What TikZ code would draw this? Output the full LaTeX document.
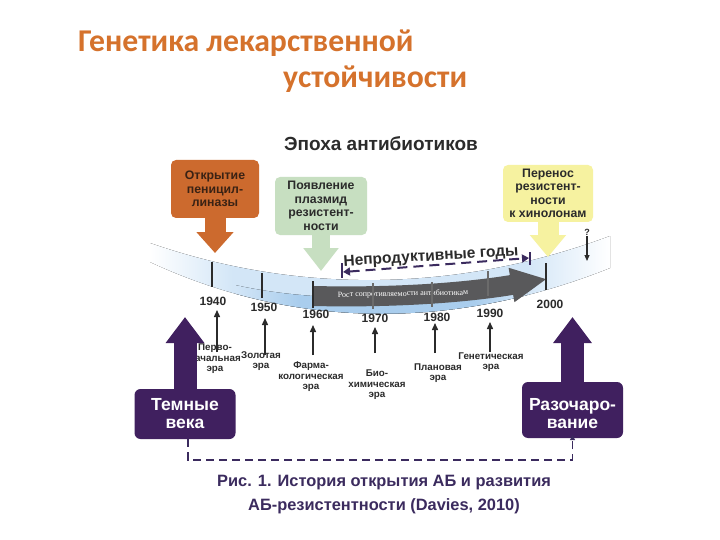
\documentclass[tikz,border=0pt]{standalone}
\usepackage{fontspec}
\setmainfont{Liberation Sans}
\newfontfamily\titlefont{Carlito}
\newfontfamily\smallserif{Liberation Serif}
\usetikzlibrary{arrows.meta}
\definecolor{titleor}{HTML}{D5722C}
\definecolor{ora}{HTML}{CC6A2E}
\definecolor{oratext}{HTML}{3A2214}
\definecolor{grn}{HTML}{C7DFC1}
\definecolor{yel}{HTML}{F6F2A0}
\definecolor{purp}{HTML}{40205F}
\definecolor{dpurp}{HTML}{3B2B5E}
\definecolor{arrgray}{HTML}{59595B}
\definecolor{bandA}{HTML}{D3E6F7}
\definecolor{bandB}{HTML}{A9CDED}
\definecolor{txt}{HTML}{2B2B2B}
\pgfdeclarehorizontalshading{bandshade}{100bp}{color(0bp)=(white); color(25bp)=(white); color(34bp)=(bandA); color(66bp)=(bandA); color(75bp)=(white); color(100bp)=(white)}
\pgfdeclarehorizontalshading{innershade}{100bp}{color(0bp)=(bandA); color(25bp)=(bandA); color(36bp)=(bandB); color(66bp)=(bandB); color(75bp)=(bandA); color(100bp)=(bandA)}
\tikzset{
  cbox/.style={rounded corners=5pt, inner sep=1pt, align=center, text=txt,
    font=\bfseries\fontsize{12.3}{13.5}\selectfont},
  pbox/.style={fill=purp, rounded corners=6pt, minimum width=101pt},
  ptext/.style={text=white, align=center, font=\bfseries\fontsize{17.5}{18}\selectfont},
  yearlbl/.style={text=txt, font=\bfseries\fontsize{12}{12}\selectfont, inner sep=0pt},
  eralbl/.style={text=txt, align=center, inner sep=0pt, font=\bfseries\fontsize{9.8}{10.5}\selectfont},
  tickline/.style={draw=txt, line width=1.6pt},
  smallarr/.style={draw=txt, line width=1.4pt, -{Triangle[width=6pt,length=7pt]}},
  orarr/.style={draw=ora, line width=21pt, -{Triangle[width=36pt,length=21pt]}},
  grnarr/.style={draw=grn, line width=18pt, -{Triangle[width=34pt,length=23pt]}},
  yelarr/.style={draw=yel, line width=21pt, -{Triangle[width=35pt,length=22pt]}},
  purarr/.style={draw=purp, line width=23pt, -{Triangle[width=37pt,length=26pt]}},
  npdash/.style={draw=dpurp, line width=2pt, dash pattern=on 10pt off 6pt},
  dashconn/.style={draw=dpurp, line width=1.2pt, dash pattern=on 8pt off 5pt}
}
\begin{document}
\begin{tikzpicture}[x=1pt,y=-1pt]
\useasboundingbox (0,0) rectangle (720,540);
\fill[white] (0,0) rectangle (720,540);

% title
\node[anchor=base west, inner sep=0pt, text=titleor, font=\titlefont\bfseries\fontsize{31.7}{32}\selectfont] (t1) at (78,52) {Генетика лекарственной};
\node[anchor=base west, inner sep=0pt, text=titleor, font=\titlefont\bfseries\fontsize{31.7}{32}\selectfont] (t2) at (283,88) {устойчивости};

\node[text=txt, font=\bfseries\fontsize{19}{20}\selectfont] (epoch) at (381,144) {Эпоха антибиотиков};

% band
\fill[shading=bandshade] (150,243) .. controls (300,295) and (460,292) .. (610,236)
  -- (610,268) .. controls (460,328) and (300,332) .. (150,262) -- cycle;
\begin{scope}
\clip (150,243) .. controls (300,295) and (460,292) .. (610,236)
  -- (610,268) .. controls (460,328) and (300,332) .. (150,262) -- cycle;
\fill[shading=innershade] (235,285) .. controls (320,304) and (440,302) .. (527,278) -- (527,340) -- (235,340) -- cycle;
\end{scope}

% gray growth arrow
\coordinate (gs) at (313,296);
\coordinate (ge) at (547,279);
\draw[line width=20pt, draw=arrgray, -{Triangle[width=32pt,length=36pt]}] (gs) .. controls (400,298) and (470,292) .. (ge);
\node[text=white, font=\smallserif\fontsize{8}{8}\selectfont, rotate=1] (rost) at (403,294) {Рост сопротивляемости антибиотикам};

% ticks
\draw[tickline] (212,262) -- (212,287);
\draw[tickline] (262,273) -- (262,298);
\draw[tickline] (313,281) -- (313,308);
\draw[tickline, draw=txt!70] (373,283) -- (373,309);
\draw[tickline, draw=txt!70] (432,282) -- (432,307);
\draw[tickline, draw=txt!70] (488,271) -- (488,296);
\draw[tickline] (546,263) -- (546,290);

% years
\node[yearlbl] (y1940) at (213,301) {1940};
\node[yearlbl] (y1950) at (264,307) {1950};
\node[yearlbl] (y1960) at (316,314) {1960};
\node[yearlbl] (y1970) at (375,318) {1970};
\node[yearlbl] (y1980) at (437,317) {1980};
\node[yearlbl] (y1990) at (490,313) {1990};
\node[yearlbl] (y2000) at (550,304) {2000};

% small arrows
\coordinate (a1t) at (217,352); \coordinate (a1h) at (217,310);
\coordinate (a2t) at (265,355); \coordinate (a2h) at (265,318);
\coordinate (a3t) at (313,355); \coordinate (a3h) at (313,325);
\coordinate (a4t) at (375,353); \coordinate (a4h) at (375,327);
\coordinate (a5t) at (435,353); \coordinate (a5h) at (435,323);
\coordinate (a6t) at (490,352); \coordinate (a6h) at (490,322);
\draw[smallarr] (a1t) -- (a1h);
\draw[smallarr] (a2t) -- (a2h);
\draw[smallarr] (a3t) -- (a3h);
\draw[smallarr] (a4t) -- (a4h);
\draw[smallarr] (a5t) -- (a5h);
\draw[smallarr] (a6t) -- (a6h);

% era labels
\node[eralbl] (e1) at (215,359) {Перво-\\начальная\\эра};
\node[eralbl] (e2) at (261,361) {Золотая\\эра};
\node[eralbl] (e3) at (311,377) {Фарма-\\кологическая\\эра};
\node[eralbl] (e4) at (377,385) {Био-\\химическая\\эра};
\node[eralbl] (e5) at (438,373) {Плановая\\эра};
\node[eralbl] (e6) at (491,362) {Генетическая\\эра};

% unproductive years
\draw[line width=1.6pt, draw=dpurp] (342,263) -- (342,278);
\draw[line width=1.6pt, draw=dpurp] (530,252) -- (530,265);
\coordinate (npl) at (343,272);
\coordinate (npr) at (529,258);
\draw[npdash, {Triangle[width=8pt,length=7pt]}-{Triangle[width=8pt,length=7pt]}] (npl) -- (npr);
\node[rotate=3.5, text=txt, font=\bfseries\fontsize{15.5}{16}\selectfont] (npg) at (431,257) {Непродуктивные годы};

% colored boxes and block arrows
\node[cbox, fill=ora, text=oratext, minimum width=88pt, minimum height=58pt] (obox) at (215,189) {Открытие\\пеницил-\\линазы};
\coordinate (otip) at (215,253);
\draw[orarr] (obox.south) -- (otip);

\node[cbox, fill=grn, minimum width=92pt, minimum height=58pt] (gbox) at (321,206) {Появление\\плазмид\\резистент-\\ности};
\coordinate (gtip) at (321,271);
\draw[grnarr] (gbox.south) -- (gtip);

\node[cbox, fill=yel, minimum width=90pt, minimum height=57pt] (ybox) at (548,193.5) {Перенос\\резистент-\\ности\\к хинолонам};
\coordinate (ytip) at (548,257);
\draw[yelarr] (ybox.south) -- (ytip);

\node[text=txt, font=\bfseries\fontsize{9}{9}\selectfont, inner sep=1pt] (qm) at (587,232) {?};
\coordinate (qtip) at (587,261);
\draw[smallarr, line width=1.2pt, -{Triangle[width=5pt,length=6pt]}] (qm.south) -- (qtip);

% purple boxes
\node[pbox, minimum height=50pt] (tbox) at (185,414) {};
\node[ptext] (ttext) at (185,414) {Темные\\века};
\coordinate (ttip) at (185,317);
\draw[purarr] (tbox.north) -- (ttip);

\node[pbox, minimum height=56pt] (rbox) at (572.5,410) {};
\node[ptext] (rtext) at (572.5,414) {Разочаро-\\вание};
\coordinate (rtip) at (572.5,317);
\draw[purarr] (rbox.north) -- (rtip);

% dashed link
\coordinate (dr) at (572.5,460);
\draw[dashconn, -{Triangle[width=5pt,length=5pt]}] ([xshift=3pt]tbox.south) |- (dr) -- ([yshift=3pt]rbox.south);

% caption
\node[text=dpurp, align=center, font=\bfseries\fontsize{16.4}{24}\selectfont] (cap) at (384,495) {Рис. 1. История открытия АБ и развития\\АБ-резистентности (Davies, 2010)};
\end{tikzpicture}
\end{document}
